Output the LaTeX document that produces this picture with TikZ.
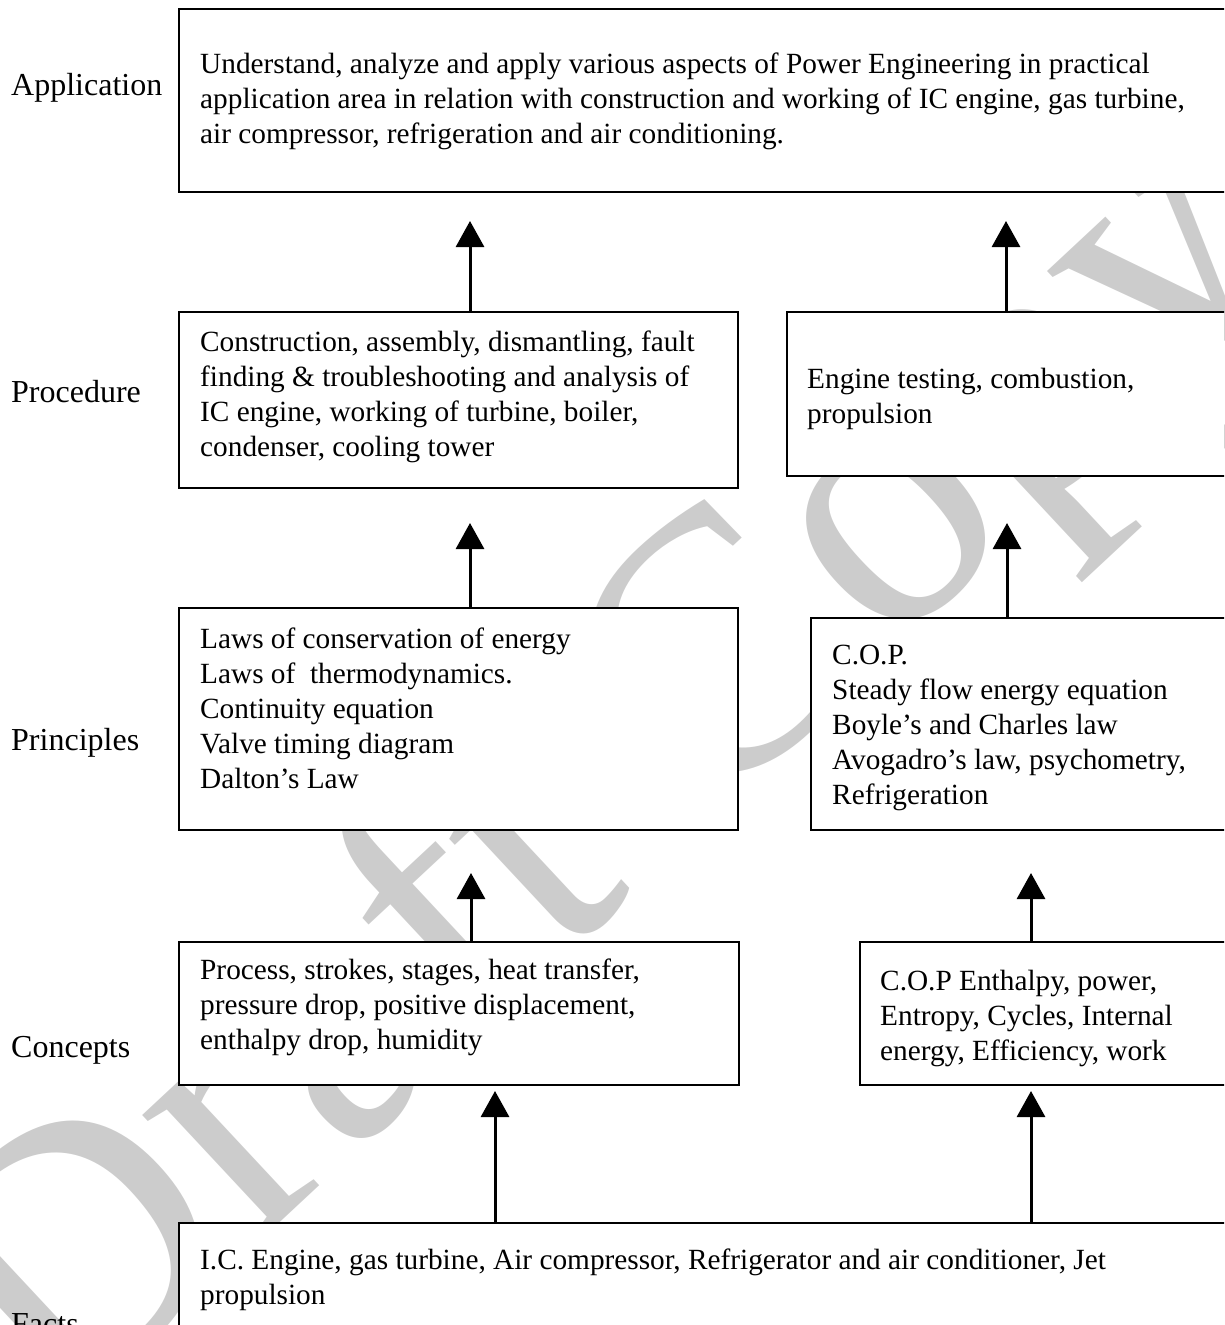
\documentclass[tikz,border=0pt]{standalone}
\usepackage{fontspec}
\setmainfont{Liberation Serif}
\usetikzlibrary{arrows.meta}
\definecolor{wmgray}{RGB}{204,204,204}

\begin{document}
\begin{tikzpicture}[
  x=1pt, y=-1pt,
  box/.style={draw, fill=white, line width=1.6pt, anchor=north west, inner sep=0pt, outer sep=0pt},
  txt/.style={anchor=north west, align=left, inner sep=0pt, font=\fontsize{29.3}{35}\selectfont},
  lvl/.style={anchor=base west, inner sep=0pt, font=\fontsize{32}{35}\selectfont},
  uparr/.style={line width=3pt, -{Triangle[length=26pt,width=28pt]}}
]

\useasboundingbox (0,0) rectangle (1224,1325);
\clip (0,0) rectangle (1224,1325);

% watermark
\node [text=wmgray, rotate=43, font=\fontsize{375}{375}\selectfont] (draft) at (615,785) {Draft Copy};

% levels
\node [lvl] (lapp)  at (11,95)   {Application};
\node [lvl] (lproc) at (11,402)  {Procedure};
\node [lvl] (lprin) at (11,750)  {Principles};
\node [lvl] (lconc) at (11,1057) {Concepts};
\node [lvl] (lfact) at (11,1334) {Facts};

% boxes
\node [box, minimum width=1061pt, minimum height=183pt] (app)   at (179,9)    {};
\node [box, minimum width=559pt,  minimum height=176pt] (proc)  at (179,312)  {};
\node [box, minimum width=453pt,  minimum height=164pt] (eng)   at (787,312)  {};
\node [box, minimum width=559pt,  minimum height=222pt] (prinl) at (179,608)  {};
\node [box, minimum width=429pt,  minimum height=212pt] (prinr) at (811,618)  {};
\node [box, minimum width=560pt,  minimum height=143pt] (concl) at (179,942)  {};
\node [box, minimum width=380pt,  minimum height=143pt] (concr) at (860,942)  {};
\node [box, minimum width=1061pt, minimum height=130pt] (fact)  at (179,1223) {};

% texts
\node [txt] (apptext) at (200,53) {Understand, analyze and apply various aspects of Power Engineering in practical\\
  application area in relation with construction and working of IC engine, gas turbine,\\
  air compressor, refrigeration and air conditioning.};
\node [txt] (proctext) at (200,331) {Construction, assembly, dismantling, fault\\
  finding \& troubleshooting and analysis of\\
  IC engine, working of turbine, boiler,\\
  condenser, cooling tower};
\node [txt] (engtext) at (807,368) {Engine testing, combustion,\\ propulsion};
\node [txt] (prinltext) at (200,628) {Laws of conservation of energy\\
  Laws of~ thermodynamics.\\
  Continuity equation\\
  Valve timing diagram\\
  Dalton’s Law};
\node [txt] (prinrtext) at (832,645) {C.O.P.\\
  Steady flow energy equation\\
  Boyle’s and Charles law\\
  Avogadro’s law, psychometry,\\
  Refrigeration};
\node [txt] (concltext) at (200,959) {Process, strokes, stages, heat transfer,\\
  pressure drop, positive displacement,\\
  enthalpy drop, humidity};
\node [txt] (concrtext) at (880,970) {C.O.P Enthalpy, power,\\
  Entropy, Cycles, Internal\\
  energy, Efficiency, work};
\node [txt] (facttext) at (200,1249) {I.C. Engine, gas turbine, Air compressor, Refrigerator and air conditioner, Jet\\
  propulsion};

% arrow tips
\coordinate (t1) at (470,221);
\coordinate (t2) at (1006,221);
\coordinate (t3) at (470,523);
\coordinate (t4) at (1007,523);
\coordinate (t5) at (471,873);
\coordinate (t6) at (1031,873);
\coordinate (t7) at (495,1091);
\coordinate (t8) at (1031,1091);

\draw [uparr] (proc.north -| t1)  -- (t1);
\draw [uparr] (eng.north -| t2)   -- (t2);
\draw [uparr] (prinl.north -| t3) -- (t3);
\draw [uparr] (prinr.north -| t4) -- (t4);
\draw [uparr] (concl.north -| t5) -- (t5);
\draw [uparr] (concr.north -| t6) -- (t6);
\draw [uparr] (fact.north -| t7)  -- (t7);
\draw [uparr] (fact.north -| t8)  -- (t8);

\end{tikzpicture}
\end{document}
